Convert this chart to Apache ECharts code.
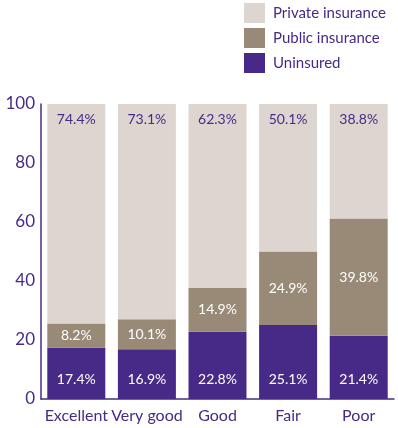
<!DOCTYPE html>
<html>
<head>
<meta charset="utf-8">
<script src="https://cdn.jsdelivr.net/npm/echarts@6/dist/echarts.min.js"></script>
<style>
  html, body { margin: 0; padding: 0; background: #fff; }
  #main { width: 398px; height: 428px; }
</style>
</head>
<body>
<div id="main"></div>
<script>
var categories = ['Excellent', 'Very good', 'Good', 'Fair', 'Poor'];
var uninsured = [17.4, 16.9, 22.8, 25.1, 21.4];
var publicIns = [8.2, 10.1, 14.9, 24.9, 39.8];
var privateIns = [74.4, 73.1, 62.3, 50.1, 38.8];
var yTicks = [0, 20, 40, 60, 80, 100];

var purple = '#472a87';
var font = 'Lato';

function pct(p) { return p.value.toFixed(1) + '%'; }

var myChart = echarts.init(document.getElementById('main'));
myChart.setOption({
    animation: false,
    textStyle: { fontFamily: font },
    legend: {
        orient: 'vertical',
        left: 244,
        top: 3,
        padding: 0,
        itemWidth: 21,
        itemHeight: 20,
        itemGap: 5,
        icon: 'rect',
        data: ['Private insurance', 'Public insurance', 'Uninsured'],
        textStyle: { color: purple, fontSize: 15, fontFamily: font, padding: [0, 0, 0, 3] }
    },
    grid: { left: 41, right: 4, top: 104, bottom: 29 },
    xAxis: {
        type: 'category',
        data: categories,
        axisLine: { lineStyle: { color: purple, width: 1.5 } },
        axisTick: { show: false },
        axisLabel: { color: purple, fontSize: 16, margin: 9, interval: 0 }
    },
    yAxis: {
        type: 'value',
        min: yTicks[0],
        max: yTicks[yTicks.length - 1],
        interval: 20,
        axisLine: { show: true, lineStyle: { color: purple, width: 1.5 } },
        axisTick: { show: false },
        splitLine: { show: false },
        axisLabel: { color: purple, fontSize: 17, margin: 6 }
    },
    series: [
        {
            name: 'Uninsured',
            type: 'bar',
            stack: 'all',
            barWidth: 58,
            color: purple,
            data: uninsured,
            label: { show: true, position: 'insideBottom', distance: 13, color: '#fff', fontSize: 14, formatter: pct }
        },
        {
            name: 'Public insurance',
            type: 'bar',
            stack: 'all',
            color: '#998a78',
            data: publicIns,
            label: { show: true, position: 'inside', color: '#fff', fontSize: 14, formatter: pct }
        },
        {
            name: 'Private insurance',
            type: 'bar',
            stack: 'all',
            color: '#ddd6d0',
            data: privateIns,
            label: { show: true, position: 'insideTop', distance: 8, color: purple, fontSize: 14, formatter: pct }
        }
    ]
});
</script>
</body>
</html>
